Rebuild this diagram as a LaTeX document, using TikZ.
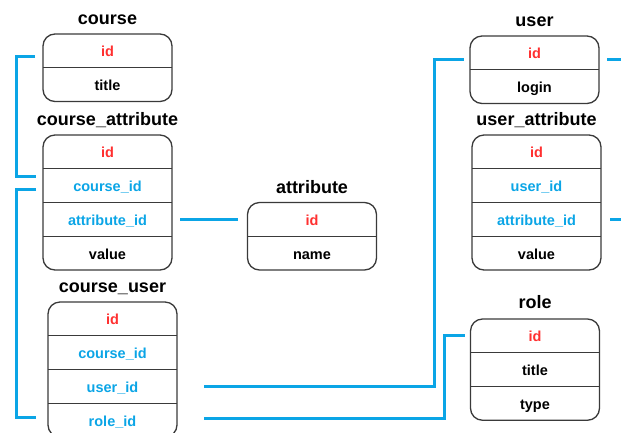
\documentclass[tikz,border=0pt]{standalone}
\usepackage{fontspec}
\setmainfont{Liberation Sans}
\usepackage{xcolor}
\usetikzlibrary{positioning}

\definecolor{keyred}{HTML}{FF3030}
\definecolor{linkblue}{HTML}{0BA5E6}
\definecolor{boxgray}{HTML}{3A3A3A}

\tikzset{
  field/.style={minimum width=129pt, minimum height=33.75pt, inner sep=0pt, outer sep=0pt,
    text height=12pt, text depth=0pt, font=\fontsize{14.5}{16}\selectfont\bfseries},
  pkey/.style={field, text=keyred},
  fkey/.style={field, text=linkblue},
  tabname/.style={anchor=base, inner sep=0pt, font=\fontsize{18}{20}\selectfont\bfseries},
  tabbox/.style={draw=boxgray, line width=1.3pt, rounded corners=12pt},
  divider/.style={draw=boxgray, line width=1.2pt},
  link/.style={draw=linkblue, line width=3pt}
}

\begin{document}
\begin{tikzpicture}[x=1pt, y=-1pt]
  \useasboundingbox (0,0) rectangle (621,432);
  \clip (0,0) rectangle (621,432);

  % course
  \node[pkey, anchor=north] (course-id) at (107.5,34) {id};
  \node[field, below=0pt of course-id] (course-title) {title};
  \node[tabname] at ([yshift=9.5pt]course-id.north) {course};
  \draw[tabbox] (course-id.north west) rectangle (course-title.south east);
  \draw[divider] (course-id.south west) -- (course-id.south east);

  % course_attribute
  \node[pkey, anchor=north] (ca-id) at (107.5,135) {id};
  \node[fkey, below=0pt of ca-id] (ca-course) {course\_id};
  \node[fkey, below=0pt of ca-course] (ca-attr) {attribute\_id};
  \node[field, below=0pt of ca-attr] (ca-value) {value};
  \node[tabname] at ([yshift=9.5pt]ca-id.north) {course\_attribute};
  \draw[tabbox] (ca-id.north west) rectangle (ca-value.south east);
  \draw[divider] (ca-id.south west) -- (ca-id.south east);
  \draw[divider] (ca-course.south west) -- (ca-course.south east);
  \draw[divider] (ca-attr.south west) -- (ca-attr.south east);

  % attribute
  \node[pkey, anchor=north] (attr-id) at (312,202.5) {id};
  \node[field, below=0pt of attr-id] (attr-name) {name};
  \node[tabname] at ([yshift=9.5pt]attr-id.north) {attribute};
  \draw[tabbox] (attr-id.north west) rectangle (attr-name.south east);
  \draw[divider] (attr-id.south west) -- (attr-id.south east);

  % course_user
  \node[pkey, anchor=north] (cu-id) at (112.5,302) {id};
  \node[fkey, below=0pt of cu-id] (cu-course) {course\_id};
  \node[fkey, below=0pt of cu-course] (cu-user) {user\_id};
  \node[fkey, below=0pt of cu-user] (cu-role) {role\_id};
  \node[tabname] at ([yshift=9.5pt]cu-id.north) {course\_user};
  \draw[tabbox] (cu-id.north west) rectangle (cu-role.south east);
  \draw[divider] (cu-id.south west) -- (cu-id.south east);
  \draw[divider] (cu-course.south west) -- (cu-course.south east);
  \draw[divider] (cu-user.south west) -- (cu-user.south east);

  % user
  \node[pkey, anchor=north] (user-id) at (534.5,36) {id};
  \node[field, below=0pt of user-id] (user-login) {login};
  \node[tabname] at ([yshift=9.5pt]user-id.north) {user};
  \draw[tabbox] (user-id.north west) rectangle (user-login.south east);
  \draw[divider] (user-id.south west) -- (user-id.south east);

  % user_attribute
  \node[pkey, anchor=north] (ua-id) at (536.5,135) {id};
  \node[fkey, below=0pt of ua-id] (ua-user) {user\_id};
  \node[fkey, below=0pt of ua-user] (ua-attr) {attribute\_id};
  \node[field, below=0pt of ua-attr] (ua-value) {value};
  \node[tabname] at ([yshift=9.5pt]ua-id.north) {user\_attribute};
  \draw[tabbox] (ua-id.north west) rectangle (ua-value.south east);
  \draw[divider] (ua-id.south west) -- (ua-id.south east);
  \draw[divider] (ua-user.south west) -- (ua-user.south east);
  \draw[divider] (ua-attr.south west) -- (ua-attr.south east);

  % role
  \node[pkey, anchor=north] (role-id) at (535,319) {id};
  \node[field, below=0pt of role-id] (role-title) {title};
  \node[field, below=0pt of role-title] (role-type) {type};
  \node[tabname] at ([yshift=11pt]role-id.north) {role};
  \draw[tabbox] (role-id.north west) rectangle (role-type.south east);
  \draw[divider] (role-id.south west) -- (role-id.south east);
  \draw[divider] (role-title.south west) -- (role-title.south east);

  % links
  \draw[link] ([xshift=-8pt,yshift=-5.5pt]course-id.west) -- ++(-19,0)
    |- ([xshift=-7pt,yshift=9pt]ca-course.west);
  \draw[link] ([xshift=-7pt,yshift=-4pt]ca-course.west) -- ++(-20,0)
    |- ([xshift=-12pt,yshift=3pt]cu-role.west);
  \draw[link] ([xshift=8pt]ca-attr.east) -- ([xshift=-10pt]attr-id.west);
  \draw[link] ([xshift=27pt]cu-user.east) -- ++(230,0)
    |- ([xshift=-6pt,yshift=-6.5pt]user-id.west);
  \draw[link] ([xshift=27pt,yshift=2pt]cu-role.east) -- ++(240,0)
    |- ([xshift=-6pt]role-id.west);
  \draw[link] ([xshift=8pt,yshift=-6.5pt]user-id.east) -- ++(30,0)
    |- ([xshift=9pt]ua-attr.east);
\end{tikzpicture}
\end{document}
